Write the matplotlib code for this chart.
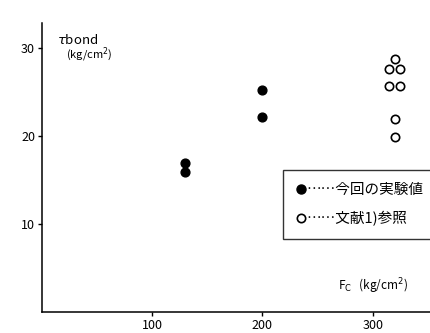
import matplotlib
matplotlib.use("Agg")
from matplotlib import pyplot as plt
from matplotlib.lines import Line2D

plt.rcParams['font.family'] = ['Noto Sans CJK JP', 'DejaVu Sans']

# present test results (solid) and literature values (open)
this_fc = [130, 130, 200, 200]
this_tau = [16.9, 15.9, 25.2, 22.1]
ref_fc = [320, 315, 325, 315, 325, 320, 320]
ref_tau = [28.75, 27.6, 27.6, 25.7, 25.7, 21.9, 19.9]

x_ticks = [100, 200, 300]
y_ticks = [10, 20, 30]
legend_labels = ["……今回の実験値", "……文献1)参照"]

fig = plt.figure(figsize=(4.30, 3.33), dpi=100)
ax = fig.add_axes([42 / 430, 1 - 312 / 333, 1 - 42 / 430, (312 - 23) / 333])

ax.scatter(this_fc, this_tau, s=40, color="black", zorder=3)
ax.scatter(ref_fc, ref_tau, s=36, facecolor="white", edgecolor="black",
           linewidth=1.2, zorder=3)

ax.set_xlim(0, 352)
ax.set_ylim(0, 32.8)
ax.set_xticks(x_ticks)
ax.set_yticks(y_ticks)
ax.tick_params(length=3, width=1, labelsize=9, pad=2)
for side in ["top", "right"]:
    ax.spines[side].set_visible(False)
for side in ["left", "bottom"]:
    ax.spines[side].set_linewidth(1.1)

# axis labels placed inside the plot as in the original figure
ax.text(57 / 430, 1 - 44 / 333, r"$\tau$bond", transform=fig.transFigure,
        fontsize=9.5, va="baseline", ha="left")
ax.text(66 / 430, 1 - 58 / 333, "(kg/cm$^2$)", transform=fig.transFigure,
        fontsize=8, va="baseline", ha="left")
ax.text(338 / 430, 1 - 290 / 333, "F$_\\mathrm{C}$   (kg/cm$^2$)",
        transform=fig.transFigure, fontsize=8.5, va="baseline", ha="left")

handles = [
    Line2D([], [], marker="o", linestyle="none", color="black", markersize=6.5),
    Line2D([], [], marker="o", linestyle="none", markerfacecolor="white",
           markeredgecolor="black", markeredgewidth=1.2, markersize=6),
]
leg = ax.legend(handles, legend_labels, loc="upper left",
                bbox_to_anchor=(283 / 430, 1 - 170 / 333),
                bbox_transform=fig.transFigure, fontsize=10.5,
                frameon=True, fancybox=False, handlelength=0.7,
                handletextpad=0.0, borderpad=0.9, labelspacing=0.95,
                borderaxespad=0)
leg.get_frame().set_edgecolor("black")
leg.get_frame().set_linewidth(1.0)

fig.savefig("out.png", dpi=100)
